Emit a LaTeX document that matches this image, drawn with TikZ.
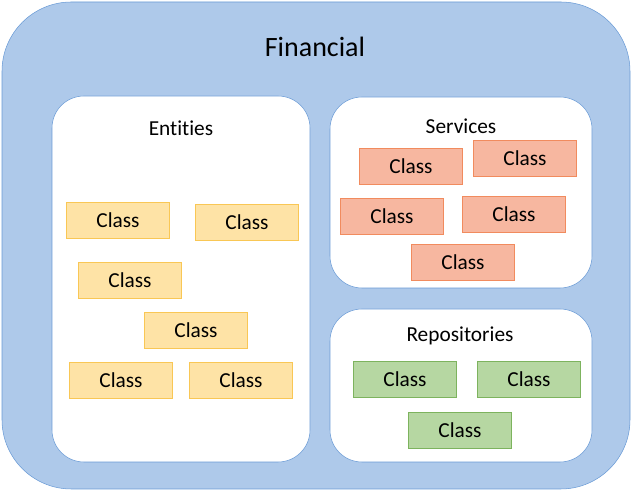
\documentclass[tikz,border=0pt]{standalone}
\usepackage{fontspec}
\setmainfont{Carlito}[RawFeature={-liga;-clig;-calt;-dlig}]
\definecolor{finfill}{HTML}{AEC9EA}
\definecolor{finline}{HTML}{6A9BD6}
\definecolor{entfill}{HTML}{FEE3A6}
\definecolor{entline}{HTML}{F9C755}
\definecolor{serfill}{HTML}{F7B7A0}
\definecolor{serline}{HTML}{F18B5E}
\definecolor{repfill}{HTML}{B6D7A2}
\definecolor{repline}{HTML}{7DB35E}
\begin{document}
\begin{tikzpicture}[x=0.75pt,y=-0.75pt,
	classbox/.style={draw, minimum width=77pt, minimum height=27pt, inner sep=0pt, font=\fontsize{16}{18}\selectfont},
	entclass/.style={classbox, fill=entfill, draw=entline},
	serclass/.style={classbox, fill=serfill, draw=serline},
	repclass/.style={classbox, fill=repfill, draw=repline},
	title/.style={font=\fontsize{16}{18}\selectfont}]
		
		\useasboundingbox (0,0) rectangle (633,491);
		
		% outer package
		\draw[finline, fill=finfill, rounded corners=52pt] (2,2) rectangle (630,489);
		\node[font=\fontsize{21}{24}\selectfont] (financial) at (315,47) {Financial};
		
		% inner boxes
		\draw[finline, fill=white, rounded corners=24pt] (52,96) rectangle (310,462);
		\draw[finline, fill=white, rounded corners=24pt] (330,97) rectangle (592,288);
		\draw[finline, fill=white, rounded corners=24pt] (330,309) rectangle (592,462);
		
		\node[title] (entities) at (181,128) {Ent\kern0pt it\kern0pt ies};
		\node[title] (services) at (461,126) {Services};
		\node[title] (repos) at (460,336) {Repositories};
		
		% entities
		\node[entclass] (e1) at (118,220) {Class};
		\node[entclass] (e2) at (247,222) {Class};
		\node[entclass] (e3) at (130,280) {Class};
		\node[entclass] (e4) at (196,330) {Class};
		\node[entclass] (e5) at (121,380) {Class};
		\node[entclass] (e6) at (241,380) {Class};
		
		% services
		\node[serclass] (s1) at (411,166) {Class};
		\node[serclass] (s2) at (525,158) {Class};
		\node[serclass] (s3) at (392,216) {Class};
		\node[serclass] (s4) at (514,214) {Class};
		\node[serclass] (s5) at (463,262) {Class};
		
		% repositories
		\node[repclass] (r1) at (405,379) {Class};
		\node[repclass] (r2) at (529,379) {Class};
		\node[repclass] (r3) at (460,430) {Class};
	\end{tikzpicture}
\end{document}
